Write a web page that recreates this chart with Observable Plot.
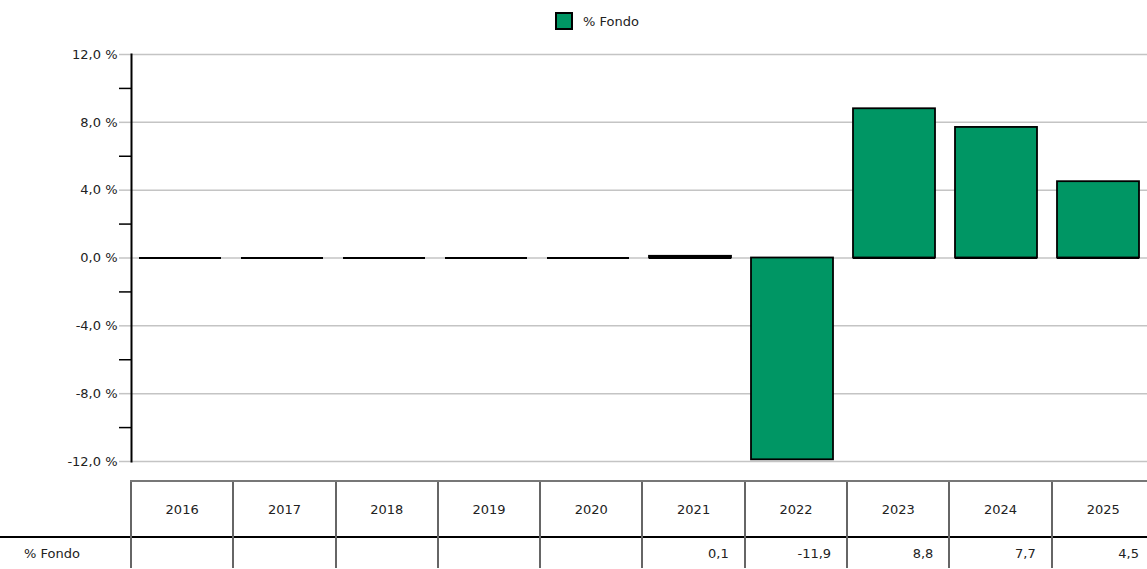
<!DOCTYPE html>
<html>
<head>
<meta charset="utf-8">
<script src="https://cdn.jsdelivr.net/npm/d3@7"></script>
<script src="https://cdn.jsdelivr.net/npm/@observablehq/plot@0.6"></script>
<style>
  html, body { margin: 0; padding: 0; background: #fff; overflow: hidden; }
  body { width: 1147px; height: 569px; position: relative; font-family: "DejaVu Sans", sans-serif; font-size: 13px; color: #222; }
  #legend { position: absolute; left: 555px; top: 12px; height: 18px; display: flex; align-items: center; }
  #legend .sw { width: 14px; height: 14px; border: 2px solid #000; background: #009664; margin-right: 10px; }
  #chart { position: absolute; left: 0; top: 40px; }
  #tbl { position: absolute; left: 0; top: 480px; border-collapse: collapse; table-layout: fixed; }
  #tbl td { padding: 0; font-size: 13px; color: #222; }
  #tbl tr.head td { height: 54px; text-align: center; vertical-align: middle; border-top: 2px solid #777; border-left: 2px solid #666; }
  #tbl tr.head td.blank { border: none; }
  #tbl tr.row td { height: 30px; text-align: right; padding-right: 15px; border-top: 2px solid #000; border-left: 2px solid #666; }
  #tbl tr.row td.lab { text-align: left; padding-left: 24px; padding-right: 0; border-left: none; }
</style>
</head>
<body>
<div id="legend"></div>
<div id="chart"></div>
<table id="tbl"></table>
<script>
const years = ["2016", "2017", "2018", "2019", "2020", "2021", "2022", "2023", "2024", "2025"];
const fondo = [null, null, null, null, null, 0.1, -11.9, 8.8, 7.7, 4.5];
const seriesName = "% Fondo";
const yTicks = [-12, -8, -4, 0, 4, 8, 12];
const yMinorTicks = [-10, -6, -2, 2, 6, 10];

const fmtAxis = d => d.toFixed(1).replace(".", ",") + " %";
const fmtCell = d => d == null ? "" : d.toFixed(1).replace(".", ",");

const data = years.map((y, i) => ({year: y, value: fondo[i] ?? 0}));

// legend
const lg = document.getElementById("legend");
lg.innerHTML = `<div class="sw"></div><span>${seriesName}</span>`;

const chart = Plot.plot({
  width: 1147,
  height: 440,
  marginLeft: 131,
  marginRight: 0,
  marginTop: 14,
  marginBottom: 19,
  x: {domain: years, range: [128, 1150], paddingInner: 0.2, paddingOuter: 0.1, axis: null},
  y: {domain: [-12, 12], axis: null, label: null},
  style: {fontFamily: "DejaVu Sans, sans-serif", fontSize: "13px", color: "#222", background: "transparent"},
  marks: [
    Plot.gridY(yTicks, {stroke: "#c4c4c4", strokeOpacity: 1, strokeWidth: 1.5}),
    Plot.axisY(yTicks, {label: null, tickSize: 12, tickPadding: 2, stroke: "#c4c4c4", strokeWidth: 1.5, strokeOpacity: 1, fill: "#222", tickFormat: fmtAxis}),
    Plot.axisY(yMinorTicks, {label: null, tickSize: 12, stroke: "#000", strokeWidth: 1.5, strokeOpacity: 1, tickFormat: () => ""}),
    Plot.tickY(data, {x: "year", y: () => 0, stroke: "#000", strokeWidth: 2}),
    Plot.barY(data, {x: "year", y: "value", fill: "#009664", stroke: "#000", strokeWidth: 1.8}),
    Plot.frame({anchor: "left", stroke: "#000", strokeWidth: 2})
  ]
});
document.getElementById("chart").appendChild(chart);

// table
const tbl = document.getElementById("tbl");
let html = `<colgroup><col style="width:131px">${years.map(() => `<col style="width:102.3px">`).join("")}</colgroup>`;
html += `<tr class="head"><td class="blank"></td>${years.map(y => `<td>${y}</td>`).join("")}</tr>`;
html += `<tr class="row"><td class="lab">${seriesName}</td>${fondo.map(v => `<td>${fmtCell(v)}</td>`).join("")}</tr>`;
tbl.innerHTML = html;
tbl.style.width = (131 + 102.3 * years.length) + "px";
</script>
</body>
</html>
